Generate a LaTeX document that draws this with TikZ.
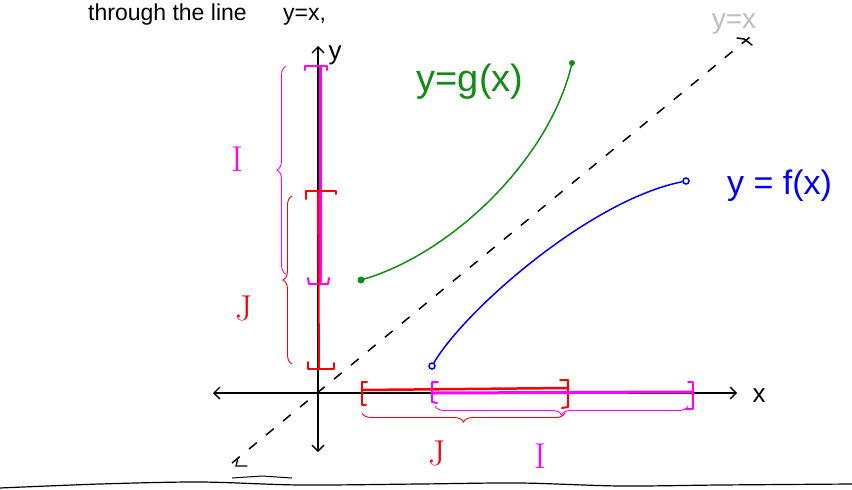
\documentclass[tikz,border=0pt]{standalone}
\usepackage{fontspec}
\setmainfont{Liberation Sans}
\usetikzlibrary{arrows.meta,decorations.pathreplacing}
\definecolor{mag}{RGB}{255,0,255}
\definecolor{grn}{RGB}{20,140,20}
\definecolor{blu}{RGB}{0,0,255}
\definecolor{rd}{RGB}{255,0,0}
\definecolor{lgray}{RGB}{190,190,190}
\tikzset{
  axis/.style={line width=1.3pt, draw=black, -{Straight Barb[length=6pt,width=12pt]}},
  diag/.style={line width=1.5pt, draw=black, dash pattern=on 10pt off 12pt},
  curve/.style={line width=1.5pt},
  ival/.style={line width=3pt, line cap=round, line join=round},
  brk/.style={line width=2pt, line cap=round, line join=round},
  brc/.style={line width=0.9pt, decorate, decoration={brace, amplitude=9pt}},
  lbl/.style={inner sep=0pt},
  hand/.style={lbl, font=\fontsize{#1}{#1}\selectfont},
  dotend/.style={circle, inner sep=0pt, minimum size=7pt}
}
\newfontfamily\lmr{Latin Modern Roman}
\begin{document}
\begin{tikzpicture}[x=1pt,y=-1pt]
\useasboundingbox[fill=white] (0,0) rectangle (852,490);
% top text
\node[hand=23, anchor=base west] (hdr) at (88,20) {through the line};
\node[hand=23, anchor=base west] (hdr2) at (283,20) {y=x,};
% axes
\coordinate (O) at (318,393);
\coordinate (xr) at (737,393);
\coordinate (xl) at (213,393);
\coordinate (yt) at (318,46);
\coordinate (yb) at (318,452);
\draw[axis] (O) -- (xr);
\draw[axis] (O) -- (xl);
\draw[axis] (O) -- (yt);
\draw[axis] (O) -- (yb);
\node[hand=26] (xlab) at (759,396) {x};
\node[hand=26] (ylab) at (335,55) {y};
% y = x dashed
\coordinate (d1) at (232,463);
\coordinate (d2) at (750,37);
\draw[diag] (d1) -- (d2);
\draw[line width=1.3pt, line cap=round] (238,458) -- (236,466) -- (247,466);
\draw[line width=1.5pt, line cap=round] (737,38) -- (744,39) -- (752,45);
\node[hand=28, text=lgray] (yx) at (734,24) {y=x};
% g curve
\node[dotend, fill=grn] (g1) at (361,280) {};
\node[dotend, fill=grn, minimum size=6pt] (g2) at (572,63) {};
\draw[grn, curve] (g1.center) .. controls (450,255) and (550,160) .. (g2.center);
\node[hand=38, text=grn] (glab) at (470,82) {y=g(x)};
% f curve
\node[dotend, draw=blu, line width=1.5pt, minimum size=6pt] (f1) at (432,366) {};
\node[dotend, draw=blu, line width=1.5pt, minimum size=6pt] (f2) at (686,181) {};
\draw[blu, curve] (f1) .. controls (465,310) and (590,200) .. (f2);
\node[hand=34, text=blu, anchor=west] (flab) at (727,186) {y = f(x)};
% intervals on y axis
\draw[mag, ival] (320,67) -- (320,282);
\draw[mag, brk] (305,70) -- (305,66) -- (327,66) -- (327,70);
\draw[mag, brk] (308,278) -- (309,284) -- (328,284) -- (329,278);
\draw[rd, ival, line width=2pt] (318,192) -- (319,368);
\draw[rd, brk] (306,199) -- (306,191) -- (336,191) -- (336,194);
\draw[rd, brk] (308,362) -- (308,369) -- (334,369) -- (334,363);
% braces left of y axis
\draw[mag, brc] (286,274) -- (286,66);
\node[lbl, text=mag, font=\fontsize{36}{36}\selectfont\lmr] (Iy) at (237,159) {I};
\draw[rd, brc] (292,364) -- (292,196);
\node[lbl, text=rd, font=\fontsize{36}{36}\selectfont\lmr] (Jy) at (244,308) {J};
% intervals on x axis
\draw[rd, ival, line width=2.5pt] (362,390) -- (568,388);
\draw[rd, brk] (367,382) -- (362,382) -- (362,405) -- (366,405);
\draw[rd, brk] (560,380) -- (568,380) -- (568,407) -- (562,408);
\draw[mag, ival] (433,393) -- (693,392);
\draw[mag, brk] (438,382) -- (432,382) -- (432,402) -- (437,403);
\draw[mag, brk] (688,382) -- (693,382) -- (693,409) -- (686,409);
% braces below x axis
\draw[rd, brc] (565,413) -- (362,413);
\node[lbl, text=rd, font=\fontsize{36}{36}\selectfont\lmr] (Jx) at (437,453) {J};
\draw[mag, brc] (688,406) -- (435,406);
\node[lbl, text=mag, font=\fontsize{36}{36}\selectfont\lmr] (Ix) at (540,456) {I};
% bottom line
\draw[line width=1.2pt] plot[smooth] coordinates {(0,488) (100,484) (200,482) (300,485) (420,484) (520,483) (620,486) (720,485) (852,484)};
\draw[line width=1pt] (232,478) -- (262,476) -- (292,478);
\end{tikzpicture}
\end{document}
